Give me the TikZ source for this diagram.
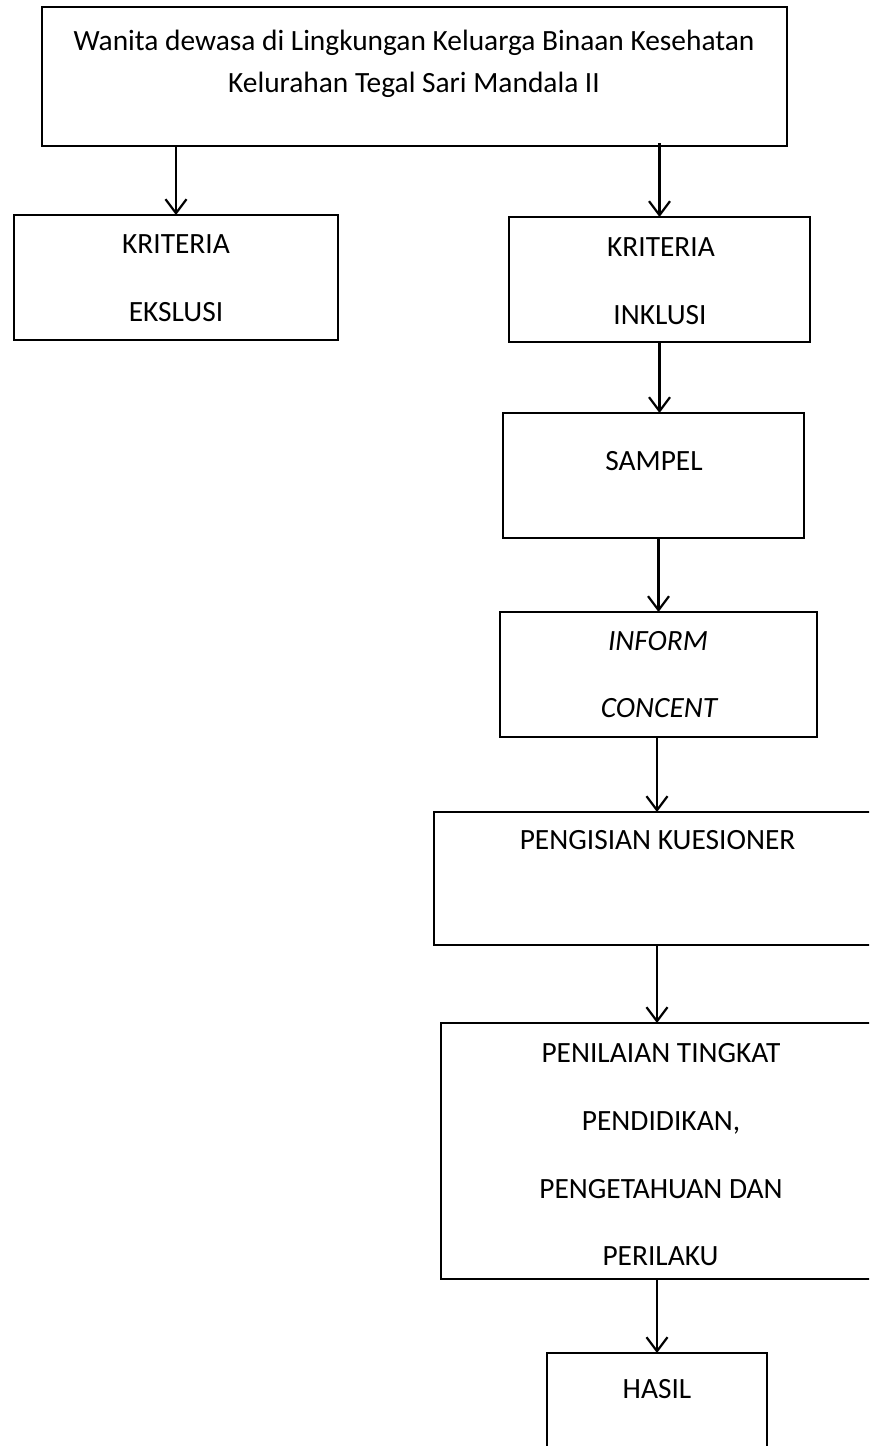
\documentclass[tikz,border=0pt]{standalone}
\usepackage{fontspec}
\setmainfont{Carlito}
\usetikzlibrary{arrows.meta}
\begin{document}
\begin{tikzpicture}[x=0.5pt,y=-0.5pt,
  box/.style={draw, line width=1pt, inner sep=0pt, outer sep=0pt},
  lbl/.style={font=\fontsize{14.7}{16}\selectfont, inner sep=0pt, anchor=base},
  arr/.style={line width=1.1pt, -{Straight Barb[length=7pt,width=10.5pt,line width=1.1pt]}}]
\useasboundingbox (0,0) rectangle (869,1446);
\clip (0,0) rectangle (869,1446);
% boxes
\node[box, minimum width=372.5pt, minimum height=69.5pt] (top) at (414.5,76.5) {};
\node[box, minimum width=162pt, minimum height=62.5pt] (eks) at (176,277.5) {};
\node[box, minimum width=150.5pt, minimum height=62.5pt] (inc) at (659.5,279.5) {};
\node[box, minimum width=150.5pt, minimum height=62.5pt] (sam) at (653.5,475.5) {};
\node[box, minimum width=158.5pt, minimum height=62.5pt] (inf) at (658.5,674.5) {};
\node[box, minimum width=223pt, minimum height=66.5pt] (kue) at (657,878.5) {};
\node[box, minimum width=219.5pt, minimum height=128pt] (pen) at (660.5,1151) {};
\node[box, minimum width=110pt, minimum height=53.5pt] (has) at (657,1406.5) {};
% texts
\node[lbl] (t1) at (414,50) {Wanita dewasa di Lingkungan Keluarga Binaan Kesehatan};
\node[lbl] (t2) at (414,92) {Kelurahan Tegal Sari Mandala II};
\node[lbl] (e1) at (176,253) {KRITERIA};
\node[lbl] (e2) at (176,321) {EKSLUSI};
\node[lbl] (i1) at (661,256) {KRITERIA};
\node[lbl] (i2) at (660,324) {INKLUSI};
\node[lbl] (s1) at (654,470) {SAMPEL};
\node[lbl] (f1) at (658,650) {\itshape INFORM};
\node[lbl] (f2) at (659,717) {\itshape CONCENT};
\node[lbl] (k1) at (657.5,849) {PENGISIAN KUESIONER};
\node[lbl] (p1) at (661,1062) {PENILAIAN TINGKAT};
\node[lbl] (p2) at (661,1130) {PENDIDIKAN,};
\node[lbl] (p3) at (661,1198) {PENGETAHUAN DAN};
\node[lbl] (p4) at (660.5,1265) {PERILAKU};
\node[lbl] (h1) at (657,1398) {HASIL};
% arrows
\draw[arr] (top.south -| eks.north) -- (eks.north);
\draw[arr] ([yshift=1.5pt]top.south -| inc.north) -- (inc.north);
\draw[arr] (inc.south) -- (sam.north -| inc.south);
\draw[arr] (sam.south -| inf.north) -- (inf.north);
\draw[arr] (inf.south -| kue.north) -- (kue.north);
\draw[arr] (kue.south) -- (kue.south |- pen.north);
\draw[arr] (pen.south -| has.north) -- (has.north);
\end{tikzpicture}
\end{document}
